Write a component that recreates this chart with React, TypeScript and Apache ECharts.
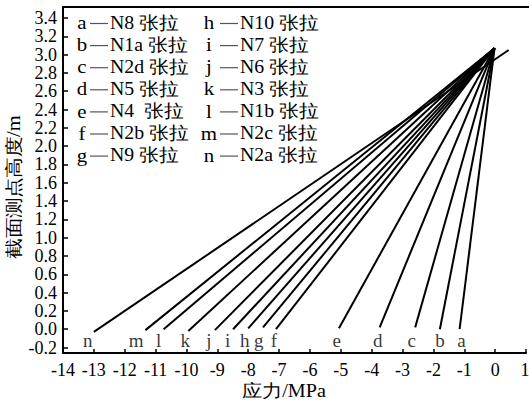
import React, { useEffect, useRef } from 'react';
import * as echarts from 'echarts';

const letters = ['a', 'b', 'c', 'd', 'e', 'f', 'g', 'h', 'i', 'j', 'k', 'l', 'm', 'n'];
const codes = ['N8', 'N1a', 'N2d', 'N5', 'N4 ', 'N2b', 'N9', 'N10', 'N7', 'N6', 'N3', 'N1b', 'N2c', 'N2a'];
const startX = [-1.15, -1.79, -2.59, -3.74, -5.06, -7.1, -7.52, -8.0, -8.49, -9.08, -9.94, -10.74, -11.33, -13.0];
const startY = [0, 0, 0.02, 0.02, 0.01, 0, 0.02, 0.01, 0, -0.01, -0.02, 0, -0.01, -0.03];
const endX = [-0.02, -0.02, -0.02, -0.02, -0.02, -0.02, -0.02, -0.02, -0.02, -0.02, -0.02, -0.02, -0.02, 0.44];
const endY = [3.07, 3.07, 3.07, 3.07, 3.07, 3.07, 3.07, 3.07, 3.07, 3.07, 3.07, 3.07, 3.07, 3.05];
const labelX = [-1.09, -1.79, -2.7, -3.8, -5.13, -7.17, -7.66, -8.11, -8.67, -9.27, -10.04, -10.9, -11.63, -13.2];
const labelY = [-0.12, -0.12, -0.12, -0.12, -0.12, -0.12, -0.12, -0.12, -0.12, -0.12, -0.12, -0.12, -0.12, -0.12];
const yTicks = [-0.2, 0.0, 0.2, 0.4, 0.6, 0.8, 1.0, 1.2, 1.4, 1.6, 1.8, 2.0, 2.2, 2.4, 2.6, 2.8, 3.0, 3.2, 3.4];
const xMaxLabel = '1';
const xTitle = '应力/MPa';
const yTitle = '截面测点高度/m';
const suffix = '张拉';

const SERIF = 'Liberation Serif';

export default function App() {
  const ref = useRef<HTMLDivElement>(null);
  useEffect(() => {
    const chart = echarts.init(ref.current as HTMLDivElement, null, { renderer: 'svg' });

    const lineSeries = letters.map((l, i) => ({
      type: 'line',
      name: l,
      data: [
        [startX[i], startY[i]],
        [endX[i], endY[i]],
      ],
      symbol: 'none',
      lineStyle: { color: '#000', width: 2 },
      silent: true,
    }));

    const labelSeries = {
      type: 'scatter',
      symbol: 'circle',
      symbolSize: 1,
      itemStyle: { color: 'rgba(0,0,0,0)' },
      data: labelX.map((x, i) => [x, labelY[i], letters[i]]),
      label: {
        show: true,
        position: 'inside',
        formatter: (p: any) => p.data[2],
        color: '#000',
        fontSize: 19,
        fontFamily: SERIF,
      },
      silent: true,
    };

    const graphics: any[] = [];
    const rowY0 = 22.5;
    const rowDy = 22.1;
    letters.forEach((l, i) => {
      const col = i < 7 ? 0 : 1;
      const row = i % 7;
      const y = rowY0 + rowDy * row;
      const letterX = col === 0 ? 82 : 209;
      const dashX0 = col === 0 ? 90 : 220;
      const textX = col === 0 ? 110 : 240;
      graphics.push({
        type: 'text',
        x: letterX,
        y,
        scaleX: 1.1,
        style: { text: l, fontSize: 19, fontFamily: SERIF, fill: '#000', align: 'center', verticalAlign: 'middle' },
      });
      graphics.push({
        type: 'line',
        shape: { x1: dashX0, y1: y + 1, x2: dashX0 + 18, y2: y + 1 },
        style: { stroke: '#555', lineWidth: 1.2 },
      });
      graphics.push({
        type: 'text',
        x: textX,
        y,
        scaleX: 1.1,
        style: { text: codes[i] + ' ' + suffix, fontSize: 18, fontFamily: SERIF, fill: '#000', align: 'left', verticalAlign: 'middle' },
      });
    });
    graphics.push({
      type: 'text',
      x: 284,
      y: 391,
      scaleX: 1.12,
      style: { text: xTitle, fontSize: 18, fontFamily: SERIF, fill: '#000', align: 'center', verticalAlign: 'middle' },
    });
    graphics.push({
      type: 'text',
      x: 14,
      y: 187,
      rotation: Math.PI / 2,
      scaleX: 1.15,
      style: { text: yTitle, fontSize: 18, fontFamily: SERIF, fill: '#000', align: 'center', verticalAlign: 'middle' },
    });
    graphics.push({
      type: 'text',
      x: 525,
      y: 370,
      style: { text: xMaxLabel, fontSize: 18, fontFamily: SERIF, fill: '#000', align: 'center', verticalAlign: 'middle' },
    });
    graphics.push({
      type: 'line',
      shape: { x1: 62, y1: 7, x2: 529, y2: 7 },
      style: { stroke: '#000', lineWidth: 2 },
    });

    chart.setOption({
      animation: false,
      grid: { left: 63, top: 7, width: 466, height: 346 },
      xAxis: [
        {
          type: 'value',
          min: -14,
          max: 1,
          interval: 1,
          splitLine: { show: false },
          axisLine: { show: true, onZero: false, lineStyle: { color: '#000', width: 2 } },
          axisTick: { show: true, inside: true, length: 4, lineStyle: { color: '#000', width: 1.5 } },
          axisLabel: {
            fontSize: 18,
            fontFamily: SERIF,
            color: '#000',
            margin: 8,
            formatter: (v: number) => (v >= 1 ? '' : String(v)),
          },
        },
      ],
      yAxis: [
        {
          type: 'value',
          min: -0.26,
          max: 3.52,
          splitLine: { show: false },
          axisLine: { show: true, onZero: false, lineStyle: { color: '#000', width: 2 } },
          axisTick: { show: true, inside: true, length: 5, customValues: yTicks, lineStyle: { color: '#000', width: 1.5 } },
          axisLabel: {
            fontSize: 18,
            fontFamily: SERIF,
            color: '#000',
            margin: 6,
            customValues: yTicks,
            formatter: (v: number) => v.toFixed(1),
          },
        },
      ],
      series: [...lineSeries, labelSeries],
      graphic: graphics,
    });
    return () => chart.dispose();
  }, []);
  return <div ref={ref} style={{ position: 'absolute', left: 0, top: 0, width: 529, height: 402 }} />;
}
